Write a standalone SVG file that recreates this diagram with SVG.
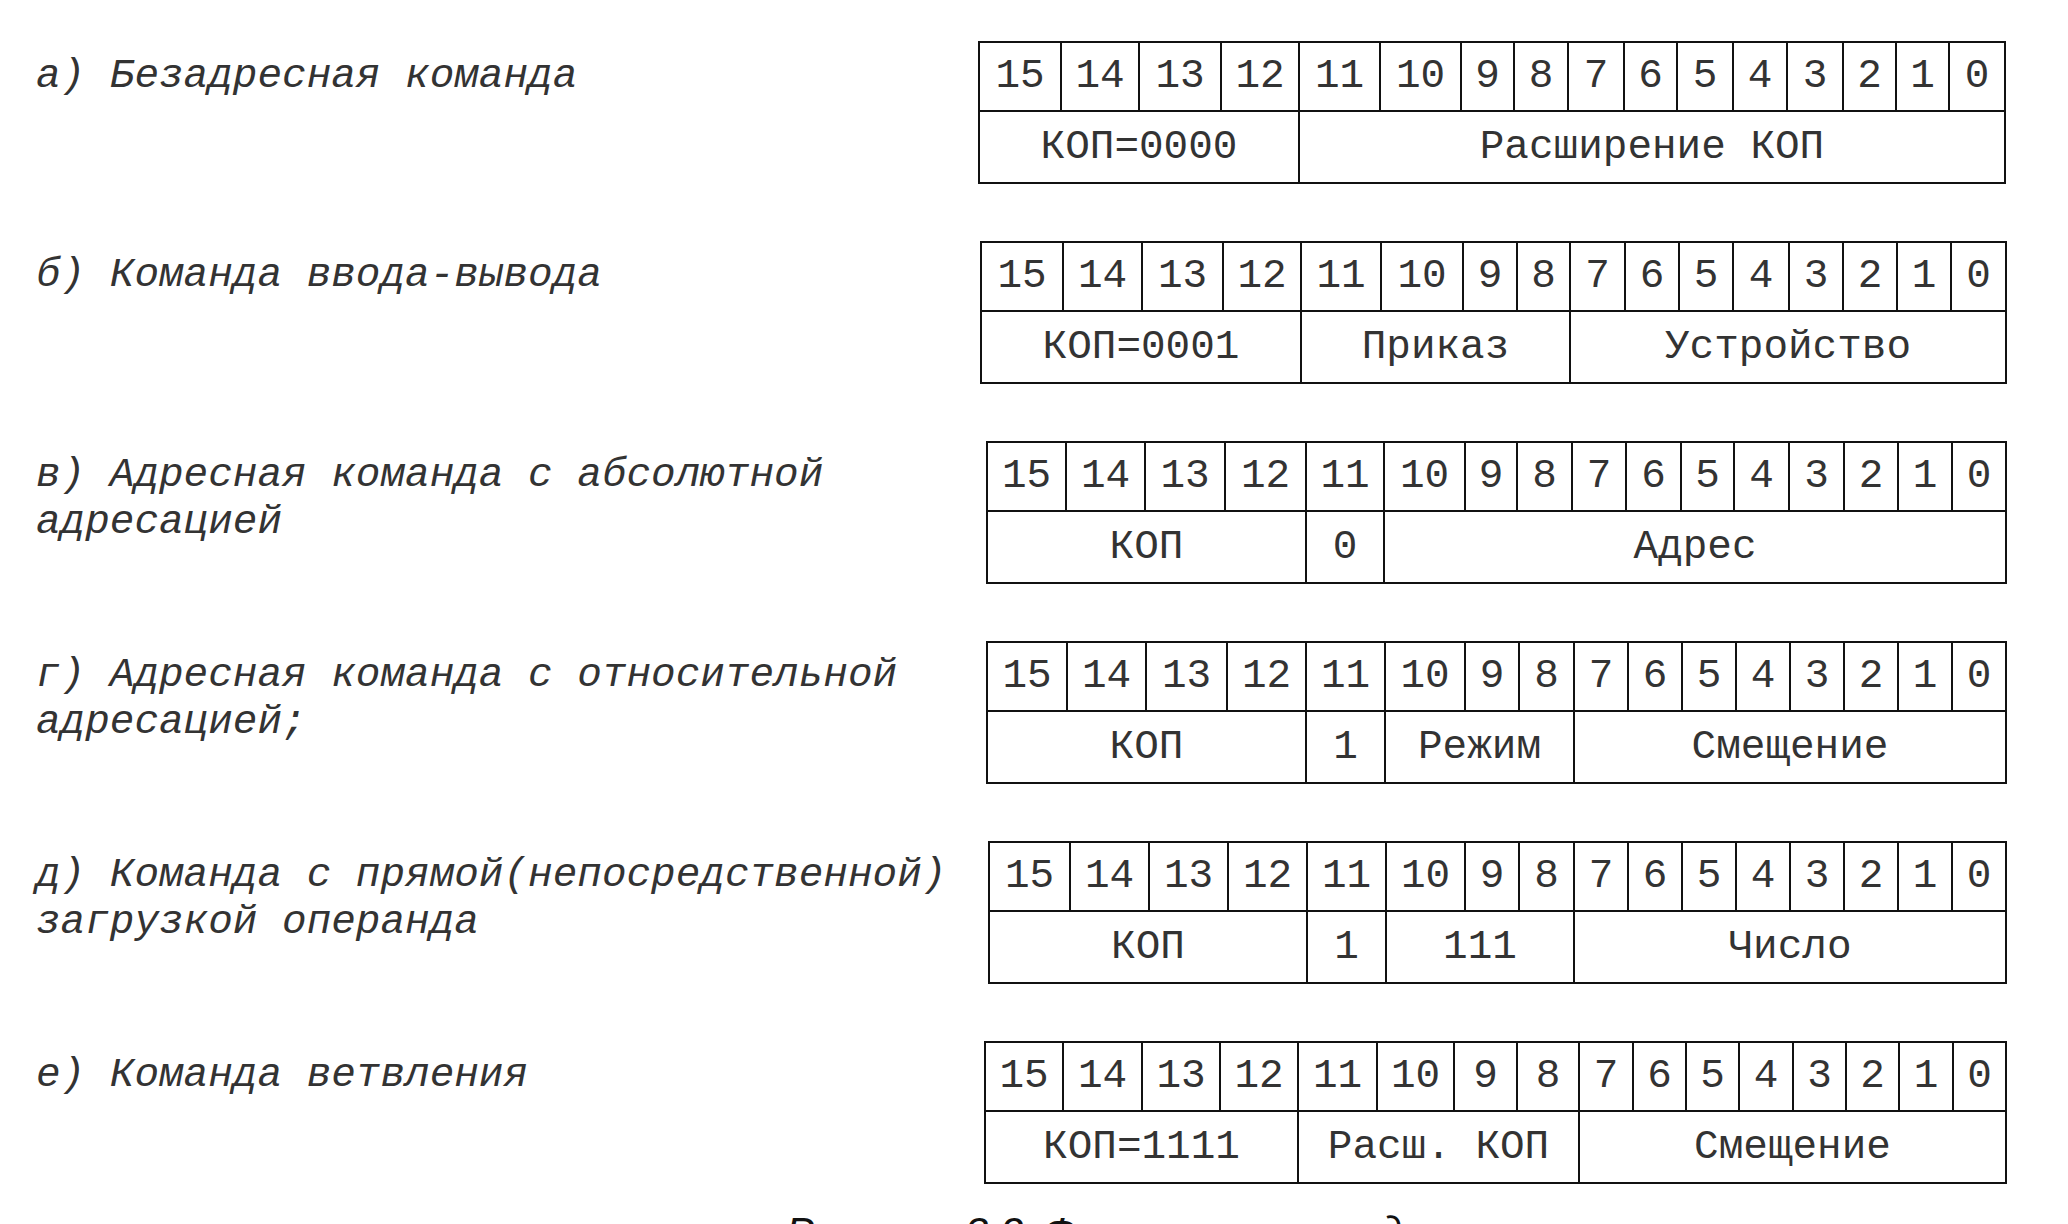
<svg xmlns="http://www.w3.org/2000/svg" width="2068" height="1224" viewBox="0 0 2068 1224">
<style>
.frame{fill:none;stroke:#111;stroke-width:2}
.cell{font-family:"Liberation Mono","DejaVu Sans Mono",monospace;font-size:41px;fill:#333;text-anchor:middle}
.lbl{font-family:"Liberation Mono","DejaVu Sans Mono",monospace;font-size:41px;font-style:italic;fill:#333}
.cap{font-family:"Liberation Sans",Arial,sans-serif;font-size:42px;font-style:italic;fill:#111;word-spacing:8px}
</style>
<rect width="2068" height="1224" fill="#fff"/>

<g id="label-a"><text class="lbl" x="36" y="87">а) Безадресная команда</text></g>
<g id="label-b"><text class="lbl" x="36" y="286">б) Команда ввода-вывода</text></g>
<g id="label-v"><text class="lbl" x="36" y="486">в) Адресная команда с абсолютной</text><text class="lbl" x="36" y="533">адресацией</text></g>
<g id="label-g"><text class="lbl" x="36" y="686">г) Адресная команда с относительной</text><text class="lbl" x="36" y="733">адресацией;</text></g>
<g id="label-d"><text class="lbl" x="36" y="886">д) Команда с прямой(непосредственной)</text><text class="lbl" x="36" y="933">загрузкой операнда</text></g>
<g id="label-e"><text class="lbl" x="36" y="1086">е) Команда ветвления</text></g>

<g id="table-a">
<rect class="frame" x="979" y="42" width="1026" height="141"/>
<path class="frame" d="M979 111H2005M1061 42V111M1139 42V111M1221 42V111M1299 42V183M1380 42V111M1461 42V111M1514 42V111M1568 42V111M1624 42V111M1677 42V111M1733 42V111M1787 42V111M1843 42V111M1896 42V111M1949 42V111"/>
<g class="cell">
<text x="1020" y="87">15</text><text x="1100" y="87">14</text><text x="1180" y="87">13</text><text x="1260" y="87">12</text><text x="1339.5" y="87">11</text><text x="1420.5" y="87">10</text><text x="1487.5" y="87">9</text><text x="1541" y="87">8</text><text x="1596" y="87">7</text><text x="1650.5" y="87">6</text><text x="1705" y="87">5</text><text x="1760" y="87">4</text><text x="1815" y="87">3</text><text x="1869.5" y="87">2</text><text x="1922.5" y="87">1</text><text x="1977" y="87">0</text>
<text x="1139" y="158">КОП=0000</text><text x="1652" y="158">Расширение КОП</text>
</g>
</g>

<g id="table-b">
<rect class="frame" x="981" y="242" width="1025" height="141"/>
<path class="frame" d="M981 311H2006M1063 242V311M1142 242V311M1223 242V311M1301 242V383M1381 242V311M1463 242V311M1517 242V311M1570 242V383M1625 242V311M1679 242V311M1733 242V311M1789 242V311M1843 242V311M1897 242V311M1951 242V311"/>
<g class="cell">
<text x="1022" y="287">15</text><text x="1102.5" y="287">14</text><text x="1182.5" y="287">13</text><text x="1262" y="287">12</text><text x="1341" y="287">11</text><text x="1422" y="287">10</text><text x="1490" y="287">9</text><text x="1543.5" y="287">8</text><text x="1597.5" y="287">7</text><text x="1652" y="287">6</text><text x="1706" y="287">5</text><text x="1761" y="287">4</text><text x="1816" y="287">3</text><text x="1870" y="287">2</text><text x="1924" y="287">1</text><text x="1978.5" y="287">0</text>
<text x="1141" y="358">КОП=0001</text><text x="1435.5" y="358">Приказ</text><text x="1788" y="358">Устройство</text>
</g>
</g>

<g id="table-v">
<rect class="frame" x="987" y="442" width="1019" height="141"/>
<path class="frame" d="M987 511H2006M1066 442V511M1145 442V511M1225 442V511M1306 442V583M1384 442V583M1465 442V511M1517 442V511M1572 442V511M1626 442V511M1681 442V511M1734 442V511M1789 442V511M1844 442V511M1898 442V511M1952 442V511"/>
<g class="cell">
<text x="1026.5" y="487">15</text><text x="1105.5" y="487">14</text><text x="1185" y="487">13</text><text x="1265.5" y="487">12</text><text x="1345" y="487">11</text><text x="1424.5" y="487">10</text><text x="1491" y="487">9</text><text x="1544.5" y="487">8</text><text x="1599" y="487">7</text><text x="1653.5" y="487">6</text><text x="1707.5" y="487">5</text><text x="1761.5" y="487">4</text><text x="1816.5" y="487">3</text><text x="1871" y="487">2</text><text x="1925" y="487">1</text><text x="1979" y="487">0</text>
<text x="1146.5" y="558">КОП</text><text x="1345" y="558">0</text><text x="1695" y="558">Адрес</text>
</g>
</g>

<g id="table-g">
<rect class="frame" x="987" y="642" width="1019" height="141"/>
<path class="frame" d="M987 711H2006M1067 642V711M1146 642V711M1227 642V711M1306 642V783M1385 642V783M1465 642V711M1519 642V711M1574 642V783M1628 642V711M1682 642V711M1736 642V711M1790 642V711M1844 642V711M1898 642V711M1952 642V711"/>
<g class="cell">
<text x="1027" y="687">15</text><text x="1106.5" y="687">14</text><text x="1186.5" y="687">13</text><text x="1266.5" y="687">12</text><text x="1345.5" y="687">11</text><text x="1425" y="687">10</text><text x="1492" y="687">9</text><text x="1546.5" y="687">8</text><text x="1601" y="687">7</text><text x="1655" y="687">6</text><text x="1709" y="687">5</text><text x="1763" y="687">4</text><text x="1817" y="687">3</text><text x="1871" y="687">2</text><text x="1925" y="687">1</text><text x="1979" y="687">0</text>
<text x="1146.5" y="758">КОП</text><text x="1345.5" y="758">1</text><text x="1479.5" y="758">Режим</text><text x="1790" y="758">Смещение</text>
</g>
</g>

<g id="table-d">
<rect class="frame" x="989" y="842" width="1017" height="141"/>
<path class="frame" d="M989 911H2006M1070 842V911M1149 842V911M1228 842V911M1307 842V983M1386 842V983M1465 842V911M1519 842V911M1574 842V983M1628 842V911M1682 842V911M1736 842V911M1790 842V911M1844 842V911M1898 842V911M1952 842V911"/>
<g class="cell">
<text x="1029.5" y="887">15</text><text x="1109.5" y="887">14</text><text x="1188.5" y="887">13</text><text x="1267.5" y="887">12</text><text x="1346.5" y="887">11</text><text x="1425.5" y="887">10</text><text x="1492" y="887">9</text><text x="1546.5" y="887">8</text><text x="1601" y="887">7</text><text x="1655" y="887">6</text><text x="1709" y="887">5</text><text x="1763" y="887">4</text><text x="1817" y="887">3</text><text x="1871" y="887">2</text><text x="1925" y="887">1</text><text x="1979" y="887">0</text>
<text x="1148" y="958">КОП</text><text x="1346.5" y="958">1</text><text x="1480" y="958">111</text><text x="1790" y="958">Число</text>
</g>
</g>

<g id="table-e">
<rect class="frame" x="985" y="1042" width="1021" height="141"/>
<path class="frame" d="M985 1111H2006M1063 1042V1111M1142 1042V1111M1220 1042V1111M1298 1042V1183M1377 1042V1111M1454 1042V1111M1517 1042V1111M1579 1042V1183M1633 1042V1111M1686 1042V1111M1739 1042V1111M1793 1042V1111M1846 1042V1111M1899 1042V1111M1953 1042V1111"/>
<g class="cell">
<text x="1024" y="1087">15</text><text x="1102.5" y="1087">14</text><text x="1181" y="1087">13</text><text x="1259" y="1087">12</text><text x="1337.5" y="1087">11</text><text x="1415.5" y="1087">10</text><text x="1485.5" y="1087">9</text><text x="1548" y="1087">8</text><text x="1606" y="1087">7</text><text x="1659.5" y="1087">6</text><text x="1712.5" y="1087">5</text><text x="1766" y="1087">4</text><text x="1819.5" y="1087">3</text><text x="1872.5" y="1087">2</text><text x="1926" y="1087">1</text><text x="1979.5" y="1087">0</text>
<text x="1141.5" y="1158">КОП=1111</text><text x="1438.5" y="1158">Расш. КОП</text><text x="1792.5" y="1158">Смещение</text>
</g>
</g>

<g id="connectors"/>

<g id="caption"><text class="cap" x="786" y="1247">Рисунок 3.2 Форматы команд</text></g>
</svg>
